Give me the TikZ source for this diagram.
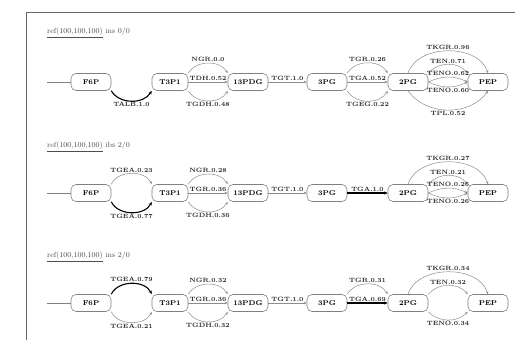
\documentclass[tikz,border=0pt]{standalone}
\usetikzlibrary{arrows.meta}
\begin{document}
\begin{tikzpicture}[x=1pt,y=-1pt,
  met/.style={draw=black!50, rounded corners=5pt, minimum width=40pt, minimum height=17pt, inner sep=1pt, font=\fontsize{7}{8}\selectfont\bfseries, line width=0.6pt},
  flux/.style={draw=black!45, line width=0.5pt, -{Stealth[length=3pt,width=2.5pt]}},
  hot/.style={draw=black, line width=1.1pt, -{Stealth[length=3.5pt,width=3pt]}},
  feed/.style={draw=black!50, line width=0.6pt},
  lab/.style={font=\fontsize{6.2}{7}\selectfont\bfseries, inner sep=1pt, text=black!85},
  ttl/.style={font=\fontsize{7.5}{8}\selectfont, text=black!70, anchor=west, inner sep=0pt},
  frame/.style={draw=black!60, line width=1pt}
  ]
\useasboundingbox (0,0) rectangle (515,340);
\coordinate (fr1) at (26,340);
\coordinate (fr2) at (26,12.5);
\coordinate (fr3) at (515,12.5);
\draw[frame] (fr1) -- (fr2) -- (fr3);

% ---------------- row 1 ----------------
\node[ttl] (title1) at (47,33) {\underline{ref(100,100,100)} ins 0/0};
\coordinate (s1) at (47,82);
\node[met] (f1) at (91,82) {F6P};
\node[met, minimum width=36pt] (t1) at (170,82) {T3P1};
\node[met] (d1) at (248,82) {13PDG};
\node[met] (g1) at (327,82) {3PG};
\node[met] (h1) at (408,82) {2PG};
\node[met] (p1) at (488,82) {PEP};
\draw[feed] (s1) -- (f1);
\draw[hot] (f1.south east) to[out=-60,in=-120] node[lab,below]{TALB.1.0} (t1.south west);
\draw[flux] (t1.north east) to[out=60,in=120] node[lab,above]{NGR.0.0} (d1.north west);
\draw[flux] (t1.east) -- node[lab,above]{TDH.0.52} (d1.west);
\draw[flux] (t1.south east) to[out=-60,in=-120] node[lab,below]{TGDH.0.48} (d1.south west);
\draw[flux] (d1) -- node[lab,above]{TGT.1.0} (g1);
\draw[flux] (g1.north east) to[out=60,in=120] node[lab,above]{TGR.0.26} (h1.north west);
\draw[flux] (g1.east) -- node[lab,above]{TGA.0.52} (h1.west);
\draw[flux] (g1.south east) to[out=-60,in=-120] node[lab,below]{TGEG.0.22} (h1.south west);
\draw[flux] (h1.north) to[out=72,in=108] node[lab,above]{TKGR.0.96} (p1.north);
\draw[flux] (h1.north east) to[out=50,in=130] node[lab,above]{TEN.0.71} (p1.north west);
\draw[flux] (h1.east) to[out=25,in=155] node[lab,above]{TENO.0.62} (p1.west);
\draw[flux] (h1.east) to[out=-25,in=-155] node[lab,below]{TENO.0.60} (p1.west);
\draw[flux] (h1.south) to[out=-55,in=-125] node[lab,below]{TPL.0.52} (p1.south);

% ---------------- row 2 ----------------
\node[ttl] (title2) at (47,147) {\underline{ref(100,100,100)} ibs 2/0};
\coordinate (s2) at (47,193);
\node[met] (f2) at (91,193) {F6P};
\node[met, minimum width=36pt] (t2) at (170,193) {T3P1};
\node[met] (d2) at (248,193) {13PDG};
\node[met] (g2) at (327,193) {3PG};
\node[met] (h2) at (408,193) {2PG};
\node[met] (p2) at (488,193) {PEP};
\draw[feed] (s2) -- (f2);
\draw[flux] (f2.north east) to[out=65,in=115] node[lab,above]{TGEA.0.23} (t2.north west);
\draw[hot] (f2.south east) to[out=-65,in=-115] node[lab,below]{TGEA.0.77} (t2.south west);
\draw[flux] (t2.north east) to[out=60,in=120] node[lab,above]{NGR.0.28} (d2.north west);
\draw[flux] (t2.east) -- node[lab,above]{TGR.0.36} (d2.west);
\draw[flux] (t2.south east) to[out=-60,in=-120] node[lab,below]{TGDH.0.36} (d2.south west);
\draw[flux] (d2) -- node[lab,above]{TGT.1.0} (g2);
\draw[hot] (g2) -- node[lab,above]{TGA.1.0} (h2);
\draw[flux] (h2.north) to[out=72,in=108] node[lab,above]{TKGR.0.27} (p2.north);
\draw[flux] (h2.north east) to[out=50,in=130] node[lab,above]{TEN.0.21} (p2.north west);
\draw[flux] (h2.east) to[out=25,in=155] node[lab,above]{TENO.0.26} (p2.west);
\draw[flux] (h2.east) to[out=-25,in=-155] node[lab,below]{TENO.0.26} (p2.west);

% ---------------- row 3 ----------------
\node[ttl] (title3) at (47,257) {\underline{ref(100,100,100)} ins 2/0};
\coordinate (s3) at (47,303);
\node[met] (f3) at (91,303) {F6P};
\node[met, minimum width=36pt] (t3) at (170,303) {T3P1};
\node[met] (d3) at (248,303) {13PDG};
\node[met] (g3) at (327,303) {3PG};
\node[met] (h3) at (408,303) {2PG};
\node[met] (p3) at (488,303) {PEP};
\draw[feed] (s3) -- (f3);
\draw[hot] (f3.north east) to[out=65,in=115] node[lab,above]{TGEA.0.79} (t3.north west);
\draw[flux] (f3.south east) to[out=-65,in=-115] node[lab,below]{TGEA.0.21} (t3.south west);
\draw[flux] (t3.north east) to[out=60,in=120] node[lab,above]{NGR.0.32} (d3.north west);
\draw[flux] (t3.east) -- node[lab,above]{TGR.0.36} (d3.west);
\draw[flux] (t3.south east) to[out=-60,in=-120] node[lab,below]{TGDH.0.32} (d3.south west);
\draw[flux] (d3) -- node[lab,above]{TGT.1.0} (g3);
\draw[flux] (g3.north east) to[out=60,in=120] node[lab,above]{TGR.0.31} (h3.north west);
\draw[hot] (g3.east) -- node[lab,above]{TGA.0.69} (h3.west);
\draw[flux] (h3.north) to[out=72,in=108] node[lab,above]{TKGR.0.34} (p3.north);
\draw[flux] (h3.north east) to[out=50,in=130] node[lab,above]{TEN.0.32} (p3.north west);
\draw[flux] (h3.south east) to[out=-45,in=-135] node[lab,below]{TENO.0.34} (p3.south west);
\end{tikzpicture}
\end{document}
